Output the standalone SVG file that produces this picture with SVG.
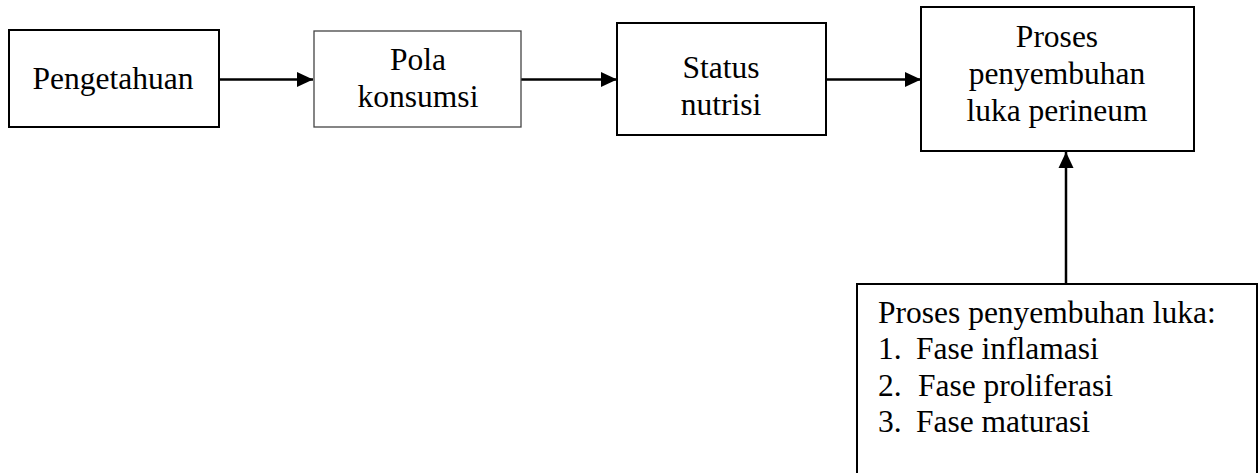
<svg xmlns="http://www.w3.org/2000/svg" width="1260" height="473" viewBox="0 0 1260 473">
<defs>
<marker id="ah" markerWidth="16" markerHeight="18" refX="16" refY="9" orient="auto" markerUnits="userSpaceOnUse">
<path d="M0,1.5 L16,9 L0,16.5 Z" fill="#000"/>
</marker>
</defs>
<style>
.box{fill:#fff;stroke:#000;stroke-width:2}
.thin{stroke:#444;stroke-width:1.3}
.t{font-family:"Liberation Serif","Times New Roman",serif;font-size:31.5px;fill:#000}
.c{text-anchor:middle}
.ln{stroke:#000;stroke-width:2.5;fill:none}
</style>
<rect width="1260" height="473" fill="#fff"/>
<g id="connectors">
<line class="ln" x1="219" y1="79.5" x2="313" y2="79.5" marker-end="url(#ah)"/>
<line class="ln" x1="521" y1="79.5" x2="617" y2="79.5" marker-end="url(#ah)"/>
<line class="ln" x1="826" y1="79.5" x2="921" y2="79.5" marker-end="url(#ah)"/>
<line class="ln" x1="1066" y1="284" x2="1066" y2="152" marker-end="url(#ah)"/>
</g>
<g id="pengetahuan">
<rect class="box" x="9" y="30" width="210" height="97"/>
<text class="t c" x="113" y="89">Pengetahuan</text>
</g>
<g id="pola">
<rect class="box thin" x="314" y="31" width="207" height="96"/>
<text class="t c" x="418" y="70">Pola</text>
<text class="t c" x="418" y="107">konsumsi</text>
</g>
<g id="status">
<rect class="box" x="617" y="23" width="209" height="112"/>
<text class="t c" x="721" y="78">Status</text>
<text class="t c" x="721" y="115">nutrisi</text>
</g>
<g id="proses">
<rect class="box" x="921" y="7" width="273" height="144"/>
<text class="t c" x="1057" y="47">Proses</text>
<text class="t c" x="1057" y="84">penyembuhan</text>
<text class="t c" x="1057" y="121">luka perineum</text>
</g>
<g id="fase">
<rect class="box" x="857" y="284" width="400" height="200"/>
<text class="t" x="878" y="323">Proses penyembuhan luka:</text>
<text class="t" x="878" y="359">1.</text><text class="t" x="916" y="359">Fase inflamasi</text>
<text class="t" x="878" y="396">2.</text><text class="t" x="918" y="396">Fase proliferasi</text>
<text class="t" x="878" y="432">3.</text><text class="t" x="916" y="432">Fase maturasi</text>
</g>
</svg>
